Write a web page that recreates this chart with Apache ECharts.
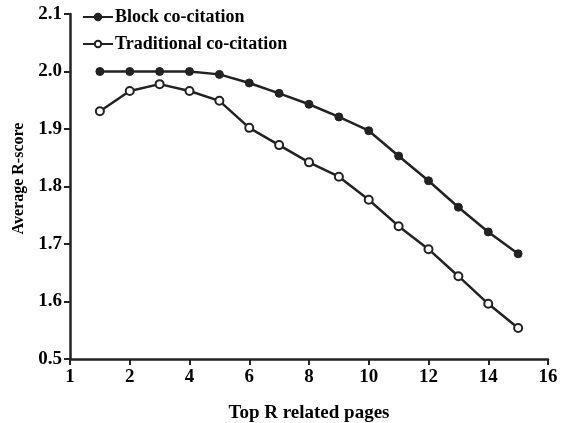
<!DOCTYPE html>
<html>
<head>
<meta charset="utf-8">
<script src="https://cdn.jsdelivr.net/npm/echarts@6/dist/echarts.min.js"></script>
<style>
html, body { margin: 0; padding: 0; background: #fff; }
#main { width: 561px; height: 423px; }
</style>
</head>
<body>
<div id="main"></div>
<script>
var ranks = [1, 2, 3, 4, 5, 6, 7, 8, 9, 10, 11, 12, 13, 14, 15];
var blockScores = [2.0, 2.0, 2.0, 2.0, 1.995, 1.98, 1.962, 1.943, 1.921, 1.897, 1.853, 1.81, 1.764, 1.721, 1.683];
var tradScores = [1.931, 1.966, 1.978, 1.966, 1.949, 1.902, 1.872, 1.842, 1.817, 1.777, 1.731, 1.691, 1.644, 1.596, 1.554];
var seriesNames = ['Block co-citation', 'Traditional co-citation'];

var _font = 'Liberation Serif';

function pairs(xs, ys) {
	var out = [];
	for (var i = 0; i < xs.length; i++) {
		out.push([xs[i], ys[i]]);
	}
	return out;
}

var chart = echarts.init(document.getElementById('main'), null, { renderer: 'canvas' });
var option = {
	animation: false,
	textStyle: { fontFamily: _font, color: '#000' },
	grid: { left: 70, right: 13, top: 14, bottom: 64, outerBoundsMode: 'none', containLabel: false },
	legend: {
		left: 82,
		top: 8,
		padding: 0,
		orient: 'vertical',
		itemGap: 9,
		itemWidth: 30,
		itemHeight: 8,
		textStyle: { fontFamily: _font, fontSize: 18, fontWeight: 'bold', color: '#000', padding: [0, 0, 0, -3] },
		data: seriesNames
	},
	xAxis: {
		type: 'value',
		min: 0,
		max: 16,
		interval: 2,
		name: 'Top R related pages',
		nameLocation: 'middle',
		nameGap: 45,
		nameTextStyle: { fontFamily: _font, fontSize: 19, fontWeight: 'bold', color: '#000' },
		splitLine: { show: false },
		axisLine: { lineStyle: { color: '#222', width: 2.5 } },
		axisTick: { length: 6, lineStyle: { color: '#222', width: 2 } },
		axisLabel: {
			fontFamily: _font, fontSize: 19, fontWeight: 'bold', color: '#000', margin: 9,
			formatter: function (v) { return v === 0 ? '1' : String(v); }
		}
	},
	yAxis: {
		type: 'value',
		min: 1.5,
		max: 2.1,
		interval: 0.1,
		name: 'Average R-score',
		nameLocation: 'middle',
		nameGap: 43,
		nameTextStyle: { fontFamily: _font, fontSize: 16, fontWeight: 'bold', color: '#000', padding: [0, 0, 0, 16] },
		splitLine: { show: false },
		axisLine: { show: true, lineStyle: { color: '#222', width: 2.5 } },
		axisTick: { show: true, length: 6, lineStyle: { color: '#222', width: 2 } },
		axisLabel: {
			fontFamily: _font, fontSize: 19, fontWeight: 'bold', color: '#000', margin: 8,
			formatter: function (v) {
				var r = Math.round(v * 10) / 10;
				if (r === 1.5) return '0.5';
				return r.toFixed(1);
			}
		}
	},
	series: [
		{
			name: seriesNames[0],
			type: 'line',
			data: pairs(ranks, blockScores),
			symbol: 'circle',
			symbolSize: 8,
			lineStyle: { color: '#222', width: 2.5 },
			itemStyle: { color: '#222', borderColor: '#222', borderWidth: 1 }
		},
		{
			name: seriesNames[1],
			type: 'line',
			data: pairs(ranks, tradScores),
			symbol: 'circle',
			symbolSize: 8,
			lineStyle: { color: '#222', width: 2.5 },
			itemStyle: { color: '#fff', borderColor: '#222', borderWidth: 2 }
		}
	]
};
chart.setOption(option);
</script>
</body>
</html>
